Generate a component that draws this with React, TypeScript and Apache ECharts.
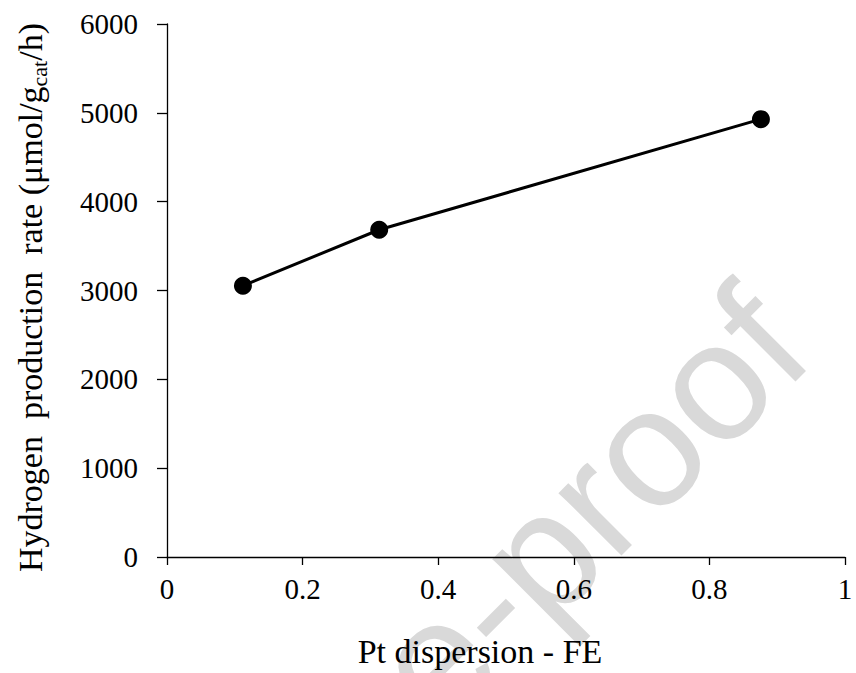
import React, { useEffect, useRef } from "react";
import * as echarts from "echarts";

const dispersion = [0.112, 0.313, 0.876];
const h2Rate = [3054, 3684, 4929];
const xTicks = [0, 0.2, 0.4, 0.6, 0.8, 1];
const yTicks = [0, 1000, 2000, 3000, 4000, 5000, 6000];
const xTitle = "Pt dispersion - FE";
const yTitle = "Hydrogen  production  rate (μmol/g{sub|cat}/h)";
const watermark = "Journal Pre-proof";

const FONT = "'Liberation Serif', 'Times New Roman', serif";

export default function App() {
  const ref = useRef<HTMLDivElement>(null);
  useEffect(() => {
    if (!ref.current) return;
    const chart = echarts.init(ref.current, null, { renderer: "svg" });
    const points = dispersion.map((x, i) => [x, h2Rate[i]]);
    const wmSize = 168;
    const ang = (45 * Math.PI) / 180;
    chart.setOption({
      animation: false,
      backgroundColor: "#ffffff",
      grid: { left: 167, right: 11, top: 24, bottom: 115, containLabel: false },
      xAxis: {
        type: "value",
        min: xTicks[0],
        max: xTicks[xTicks.length - 1],
        interval: xTicks[1] - xTicks[0],
        name: xTitle,
        nameLocation: "middle",
        nameGap: 77,
        nameTextStyle: { fontFamily: FONT, fontSize: 34, color: "#000", padding: [0, 52, 0, 0] },
        axisLine: { lineStyle: { color: "#000", width: 1.3 } },
        axisTick: { length: 8, lineStyle: { color: "#000", width: 1.3 } },
        axisLabel: { fontFamily: FONT, fontSize: 29, color: "#000", margin: 17, formatter: (v: number) => String(v) },
        splitLine: { show: false },
      },
      yAxis: {
        type: "value",
        min: yTicks[0],
        max: yTicks[yTicks.length - 1],
        interval: yTicks[1] - yTicks[0],
        name: yTitle,
        nameLocation: "middle",
        nameGap: 117,
        nameTextStyle: {
          fontFamily: FONT,
          fontSize: 34,
          color: "#000",
          lineHeight: 40,
          padding: [0, 14, 0, 0],
          rich: {
            sub: { fontFamily: FONT, fontSize: 22, lineHeight: 22, verticalAlign: "bottom", color: "#000" },
          },
        },
        axisLine: { show: true, lineStyle: { color: "#000", width: 1.3 } },
        axisTick: { show: true, length: 10, lineStyle: { color: "#000", width: 1.3 } },
        axisLabel: { fontFamily: FONT, fontSize: 29, color: "#000", margin: 29, formatter: (v: number) => String(v) },
        splitLine: { show: false },
      },
      graphic: [
        {
          type: "text",
          x: 777,
          y: 318,
          rotation: ang,
          z: -10,
          silent: true,
          style: {
            text: watermark,
            fontFamily: "'Liberation Sans', Arial, sans-serif",
            fontSize: wmSize,
            fill: "#d9d9d9",
            textAlign: "right",
            textVerticalAlign: "middle",
          },
        },
      ],
      series: [
        {
          type: "line",
          data: points,
          symbol: "circle",
          symbolSize: 18,
          itemStyle: { color: "#000" },
          lineStyle: { color: "#000", width: 3 },
          z: 10,
        },
      ],
    });
    return () => chart.dispose();
  }, []);
  return <div ref={ref} style={{ position: "fixed", left: 0, top: 0, width: 856, height: 673 }} />;
}
